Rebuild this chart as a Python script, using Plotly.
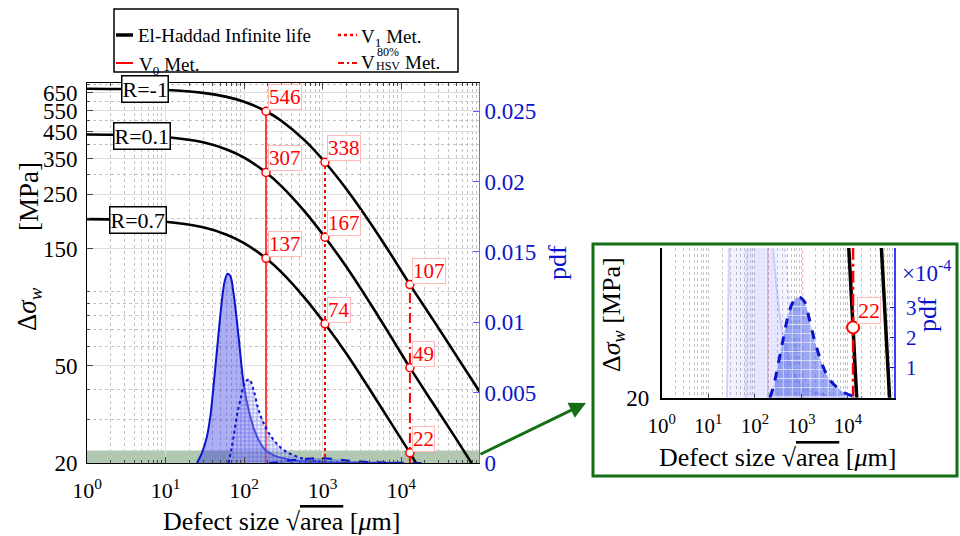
import numpy as np
import plotly.graph_objects as go

# ---------------- data ----------------
size_um = [1, 3, 10, 30, 60, 100, 190, 300, 600, 1070, 2000, 4000, 7000, 12900, 25000, 50000, 100000]
elhaddad_Rm1 = [675, 673, 667, 649, 625, 597, 546, 498, 413, 338, 263, 192, 146, 107, 77.5, 55, 39]
elhaddad_R01 = [439, 436.7, 428.5, 407.6, 381, 353, 307, 269.5, 211.4, 167, 126.5, 90, 67.5, 49, 35.3, 25.1, 17.7]
size_um_R07 = [1, 3, 10, 30, 60, 100, 190, 300, 600, 1070, 2000, 4000, 7000, 12900, 15000, 20000]
elhaddad_R07 = [198, 196.9, 193.1, 183.3, 171, 158, 137, 120, 93.8, 74, 56, 39.8, 30, 22, 20.3, 17.6]

R_names = ["R=-1", "R=0.1", "R=0.7"]
R_label_size = [5.5, 5.0, 4.5]
R_label_val = [671, 434, 196]

V_sizes = [190, 1070, 12900]          # V0, V1, V_HSV defect sizes [um]
V0_vals = [546, 307, 137]
V1_vals = [338, 167, 74]
HSV_vals = [107, 49, 22]

pdf_size_solid = [25.1, 29, 33.6, 37.1, 41, 45.1, 52.2, 56.5, 61.6, 66.5, 73.5, 85.1, 98.6, 120, 146, 186, 263, 473, 1000, 3000, 10000]
pdf_solid = [0, 0.0007, 0.00187, 0.0033, 0.0056, 0.0080, 0.01156, 0.0129, 0.01345, 0.0133, 0.01203, 0.00896, 0.00565,
             0.00328, 0.00187, 0.00092, 0.00045, 0.00016, 0.00004, 0.00001, 0]
pdf_size_dotted = [63.4, 68, 73.5, 80, 89.5, 103.6, 116.5, 132, 153, 186, 238, 319, 473, 770, 1500, 4000]
pdf_dotted = [0, 0.0008, 0.00187, 0.0032, 0.00447, 0.00577, 0.00593, 0.00518, 0.00376, 0.00258, 0.00163, 0.00092,
              0.00045, 0.00016, 0.00004, 0]
pdf_size_dashed = [209, 250, 290, 402, 559, 715, 885, 1172, 1500, 1920, 2455, 3410, 4730, 7740, 12600, 20000]
pdf_dashed = [0, 0.35e-4, 0.81e-4, 1.92e-4, 2.92e-4, 3.28e-4, 3.37e-4, 3.2e-4, 2.59e-4, 1.92e-4, 1.37e-4,
              0.81e-4, 0.48e-4, 0.2e-4, 0.06e-4, 0]

x_ticks = [1, 10, 100, 1000, 10000]
x_ticktext = ["10<sup>0</sup>", "10<sup>1</sup>", "10<sup>2</sup>", "10<sup>3</sup>", "10<sup>4</sup>"]
y_ticks = [20, 50, 150, 250, 350, 450, 550, 650]
pdf_ticks = [0, 0.005, 0.01, 0.015, 0.02, 0.025]
pdf_ticktext = ["0", "0.005", "0.01", "0.015", "0.02", "0.025"]
inset_pdf_ticks = [1e-4, 2e-4, 3e-4]
inset_pdf_ticktext = ["1", "2", "3"]

# ---------------- style ----------------
FONT = "Liberation Serif"
RED = "rgb(255,0,0)"
BLUE = "rgb(10,20,205)"
GREEN = "rgb(20,110,20)"
minor_x = [m * 10 ** k for k in range(0, 5) for m in range(2, 10)]
minor_y = [30, 40, 60, 70, 80, 90, 100, 200, 300, 400, 500, 600, 700]

fig = go.Figure()

# ---------- main plot ----------
for xs, ys in [(size_um, elhaddad_Rm1), (size_um, elhaddad_R01), (size_um_R07, elhaddad_R07)]:
    fig.add_trace(go.Scatter(x=xs, y=ys, mode="lines", line=dict(color="black", width=2.6, shape="spline"),
                             xaxis="x", yaxis="y"))
# vertical method lines
fig.add_trace(go.Scatter(x=[V_sizes[0], V_sizes[0]], y=[20, V0_vals[0]], mode="lines",
                         line=dict(color=RED, width=1.5), xaxis="x", yaxis="y"))
fig.add_trace(go.Scatter(x=[V_sizes[1], V_sizes[1]], y=[20, V1_vals[0]], mode="lines",
                         line=dict(color=RED, width=2, dash="dot"), xaxis="x", yaxis="y"))
fig.add_trace(go.Scatter(x=[V_sizes[2], V_sizes[2]], y=[20, HSV_vals[0]], mode="lines",
                         line=dict(color=RED, width=2, dash="10px,4px,2px,4px"), xaxis="x", yaxis="y"))
# markers
pts_x = [V_sizes[0]] * 3 + [V_sizes[1]] * 3 + [V_sizes[2]] * 3
pts_y = V0_vals + V1_vals + HSV_vals
fig.add_trace(go.Scatter(x=pts_x, y=pts_y, mode="markers",
                         marker=dict(symbol="circle", size=8, color="white", line=dict(color=RED, width=1.5)),
                         xaxis="x", yaxis="y"))
# pdfs (right axis)
fig.add_trace(go.Scatter(x=pdf_size_solid, y=pdf_solid, mode="lines", fill="tozeroy",
                         fillcolor="rgba(40,40,225,0.38)", line=dict(color=BLUE, width=2, shape="spline"),
                         xaxis="x", yaxis="y2"))
fig.add_trace(go.Scatter(x=pdf_size_dotted, y=pdf_dotted, mode="lines", fill="tozeroy",
                         fillpattern=dict(shape="+", size=4, solidity=0.25, fgcolor="rgba(40,40,225,0.6)",
                                          bgcolor="rgba(200,200,255,0.35)"),
                         line=dict(color=BLUE, width=2, dash="dot", shape="spline"),
                         xaxis="x", yaxis="y2"))
fig.add_trace(go.Scatter(x=pdf_size_dashed, y=pdf_dashed, mode="lines", fill="tozeroy",
                         fillcolor="rgba(80,100,230,0.5)",
                         line=dict(color=BLUE, width=2, dash="dash", shape="spline"),
                         xaxis="x", yaxis="y2"))

# ---------- inset ----------
fig.add_trace(go.Scatter(x=pdf_size_solid, y=pdf_solid, mode="lines", fill="tozeroy",
                         fillcolor="rgba(60,60,255,0.08)", line=dict(color="rgba(60,60,255,0.2)", width=2, shape="spline"),
                         xaxis="x3", yaxis="y4"))
fig.add_trace(go.Scatter(x=pdf_size_dotted, y=pdf_dotted, mode="lines", fill="tozeroy",
                         fillpattern=dict(shape="+", size=4, solidity=0.2, fgcolor="rgba(60,60,255,0.15)",
                                          bgcolor="rgba(200,200,255,0.1)"),
                         line=dict(color="rgba(60,60,255,0.2)", width=2, dash="dot", shape="spline"),
                         xaxis="x3", yaxis="y4"))
fig.add_trace(go.Scatter(x=pdf_size_dashed, y=pdf_dashed, mode="lines", fill="tozeroy",
                         fillpattern=dict(shape="+", size=9, solidity=0.15, fgcolor="rgba(255,255,255,0.85)",
                                          bgcolor="rgba(70,95,230,0.55)"),
                         line=dict(color=BLUE, width=3, dash="dash", shape="spline"),
                         xaxis="x3", yaxis="y4"))
fig.add_trace(go.Scatter(x=[V_sizes[0], V_sizes[0]], y=[20, V0_vals[0]], mode="lines",
                         line=dict(color="rgba(255,0,0,0.25)", width=1.5), xaxis="x3", yaxis="y3"))
fig.add_trace(go.Scatter(x=[V_sizes[1], V_sizes[1]], y=[20, V1_vals[0]], mode="lines",
                         line=dict(color="rgba(255,0,0,0.25)", width=1.5, dash="dot"), xaxis="x3", yaxis="y3"))
for xs, ys in [(size_um, elhaddad_Rm1), (size_um, elhaddad_R01), (size_um_R07, elhaddad_R07)]:
    fig.add_trace(go.Scatter(x=xs, y=ys, mode="lines", line=dict(color="black", width=3.5, shape="spline"),
                             xaxis="x3", yaxis="y3"))
fig.add_trace(go.Scatter(x=[V_sizes[2], V_sizes[2]], y=[20, HSV_vals[0]], mode="lines",
                         line=dict(color=RED, width=2.5, dash="12px,4px,3px,4px"), xaxis="x3", yaxis="y3"))
fig.add_trace(go.Scatter(x=[V_sizes[2]], y=[HSV_vals[2]], mode="markers",
                         marker=dict(symbol="circle", size=12, color="white", line=dict(color=RED, width=2)),
                         xaxis="x3", yaxis="y3"))

# ---------------- annotations ----------------
ann = []
for name, xs, ys in zip(R_names, R_label_size, R_label_val):
    ann.append(dict(x=np.log10(xs), y=np.log10(ys), xref="x", yref="y", text=name, showarrow=False,
                    font=dict(family=FONT, size=22, color="black"), bgcolor="white", bordercolor="black",
                    borderwidth=1.5, borderpad=0, xanchor="center", yanchor="middle"))
for sx, vals in zip(V_sizes, [V0_vals, V1_vals, HSV_vals]):
    for v in vals:
        ann.append(dict(x=np.log10(sx), y=np.log10(v), xref="x", yref="y", text=str(v), showarrow=False,
                        font=dict(family=FONT, size=21, color=RED), bgcolor="white",
                        bordercolor="rgb(255,185,185)", borderwidth=1, borderpad=0,
                        xanchor="left", yanchor="bottom", xshift=2, yshift=1))
ann.append(dict(x=np.log10(V_sizes[2]), y=np.log10(HSV_vals[2]), xref="x3", yref="y3", text=str(HSV_vals[2]),
                showarrow=False, font=dict(family=FONT, size=22, color=RED), bgcolor="white",
                bordercolor="rgb(255,185,185)", borderwidth=1, borderpad=0,
                xanchor="left", yanchor="bottom", xshift=4, yshift=3))

xtitle = 'Defect size √<span style="text-decoration:overline">area</span> [<i>μ</i>m]'
ytitle = "Δ<i>σ</i><sub><i>w</i></sub> [MPa]"
def P(xpx, ypx):
    return xpx / 960.0, 1 - ypx / 536.0

for (px, py), txt, ang, col, sz in [
    ((281, 521), xtitle, 0, "black", 26),
    ((29, 309), "Δ<i>σ</i><sub><i>w</i></sub>", -90, "black", 27),
    ((29, 197), "[MPa]", -90, "black", 27),
    ((557, 263), "pdf", -90, BLUE, 26),
    ((777, 457), xtitle, 0, "black", 26),
    ((613, 315), ytitle, -90, "black", 26),
    ((927, 315), "pdf", -90, BLUE, 26),
]:
    x, y = P(px, py)
    ann.append(dict(x=x, y=y, xref="paper", yref="paper", text=txt, textangle=ang, showarrow=False,
                    font=dict(family=FONT, size=sz, color=col), xanchor="center", yanchor="middle"))
x, y = P(900, 271)
ann.append(dict(x=x, y=y, xref="paper", yref="paper", text="×10<sup>-4</sup>", showarrow=False,
                font=dict(family=FONT, size=23, color=BLUE), xanchor="left", yanchor="middle"))

# arrow to inset
x, y = P(586, 403)
ann.append(dict(x=x, y=y, xref="paper", yref="paper", ax=-107, ay=52, axref="pixel", ayref="pixel",
                showarrow=True, arrowhead=2, arrowsize=1.1, arrowwidth=3, arrowcolor=GREEN, text=""))

# legend texts
for (px, py), txt, sz, anc in [
    ((136, 35), "El-Haddad Infinite life", 19, "left"),
    ((137, 66), "V<sub>0</sub> Met.", 19, "left"),
    ((359, 38), "V<sub>1</sub> Met.", 19, "left"),
    ((359, 63), "V", 19, "left"),
    ((388, 52), "80%", 12, "center"),
    ((388, 66), "HSV", 12, "center"),
    ((403, 63), "Met.", 19, "left"),
]:
    x, y = P(px, py)
    ann.append(dict(x=x, y=y, xref="paper", yref="paper", text=txt, showarrow=False,
                    font=dict(family=FONT, size=sz, color="black"), xanchor=anc, yanchor="middle"))

# ---------------- shapes ----------------
shapes = []
# zoom band on the main plot
shapes.append(dict(type="rect", xref="x domain", yref="y", x0=0, x1=1, y0=20, y1=22.5,
                   fillcolor="rgba(95,145,95,0.5)", line=dict(width=0), layer="below"))
# inset frame
x0, y1 = P(593, 244)
x1, y0 = P(957, 476)
shapes.append(dict(type="rect", xref="paper", yref="paper", x0=x0, x1=x1, y0=y0, y1=y1,
                   line=dict(color=GREEN, width=3), fillcolor="rgba(0,0,0,0)", layer="above"))
# legend box
x0, y1 = P(114, 9)
x1, y0 = P(458, 72)
shapes.append(dict(type="rect", xref="paper", yref="paper", x0=x0, x1=x1, y0=y0, y1=y1,
                   line=dict(color="black", width=1.5), fillcolor="rgba(0,0,0,0)", layer="above"))
for (xa, xb, yy), col, w, dash in [
    ((116, 133, 35), "black", 3.5, "solid"),
    ((116, 133, 63), RED, 2, "solid"),
    ((338, 357, 35), RED, 2.5, "dot"),
    ((338, 357, 63), RED, 2, "6px,3px,2px,3px"),
]:
    xa_, yy_ = P(xa, yy)
    xb_, _ = P(xb, yy)
    shapes.append(dict(type="line", xref="paper", yref="paper", x0=xa_, x1=xb_, y0=yy_, y1=yy_,
                       line=dict(color=col, width=w, dash=dash), layer="above"))

# ---------------- layout ----------------
GRID = "rgb(222,222,222)"
MGRID = "rgb(195,195,195)"
tickfont_x = dict(family=FONT, size=22, color="black")
tickfont_y = dict(family=FONT, size=23, color="black")

fig.update_layout(
    template="none",
    width=960, height=536, margin=dict(l=0, r=0, t=0, b=0, pad=0, autoexpand=False),
    paper_bgcolor="white", plot_bgcolor="white", showlegend=False, hovermode=False,
    annotations=ann, shapes=shapes,
    xaxis=dict(domain=[87 / 960, 479 / 960], anchor="y", type="log", range=[0, 4.99], automargin=False,
               tickvals=x_ticks, ticktext=x_ticktext, tickfont=tickfont_x, ticks="inside", ticklen=6,
               showline=True, linecolor="black", linewidth=1, mirror="ticks", showgrid=True, gridcolor=GRID,
               zeroline=False, ticklabelstandoff=8,
               minor=dict(tickvals=minor_x, ticks="inside", ticklen=3, showgrid=True, gridcolor=MGRID,
                          griddash="dot")),
    yaxis=dict(domain=[1 - 463 / 536, 1 - 83 / 536], anchor="x", type="log", automargin=False,
               range=[np.log10(20), np.log10(712)], tickvals=y_ticks, tickfont=tickfont_y, ticks="inside",
               ticklen=6, showline=True, linecolor="black", linewidth=1, showgrid=True, gridcolor=GRID,
               zeroline=False, ticklabelstandoff=4,
               minor=dict(tickvals=minor_y, ticks="inside", ticklen=3, showgrid=True, gridcolor=MGRID,
                          griddash="dot")),
    yaxis2=dict(overlaying="y", side="right", anchor="x", range=[0, 0.027], tickvals=pdf_ticks, automargin=False,
                ticktext=pdf_ticktext, tickfont=dict(family=FONT, size=23, color=BLUE), ticks="inside",
                ticklen=6, tickcolor="rgb(90,90,255)", showline=True, linecolor="rgb(110,110,255)", linewidth=1,
                showgrid=False, zeroline=False),
    xaxis3=dict(domain=[661.7 / 960, 894 / 960], anchor="y3", type="log", range=[0, 4.99], automargin=False,
                tickvals=x_ticks, ticktext=x_ticktext, tickfont=dict(family=FONT, size=21, color="black"),
                ticks="inside", ticklen=4, showline=True, linecolor="black", linewidth=1.5, showgrid=True,
                gridcolor=MGRID, griddash="dot", zeroline=False, ticklabelstandoff=8,
                minor=dict(tickvals=minor_x, ticks="", showgrid=True, gridcolor=MGRID, griddash="dot")),
    yaxis3=dict(domain=[1 - 397.7 / 536, 1 - 248 / 536], anchor="x3", type="log", automargin=False,
                range=[np.log10(20), np.log10(24.5)], tickvals=[20],
                tickfont=dict(family=FONT, size=23, color="black"), ticks="inside", ticklen=4,
                showline=True, linecolor="black", linewidth=1.5, showgrid=False, zeroline=False,
                ticklabelstandoff=6),
    yaxis4=dict(overlaying="y3", side="right", anchor="x3", range=[0, 5e-4], tickvals=inset_pdf_ticks,
                automargin=False,
                ticktext=inset_pdf_ticktext, tickfont=dict(family=FONT, size=21, color=BLUE), ticks="inside",
                ticklen=4, tickcolor=BLUE, showline=True, linecolor="rgb(60,60,255)", linewidth=1.5,
                showgrid=False, zeroline=False, ticklabelstandoff=6),
)

fig.write_html("out.html")
